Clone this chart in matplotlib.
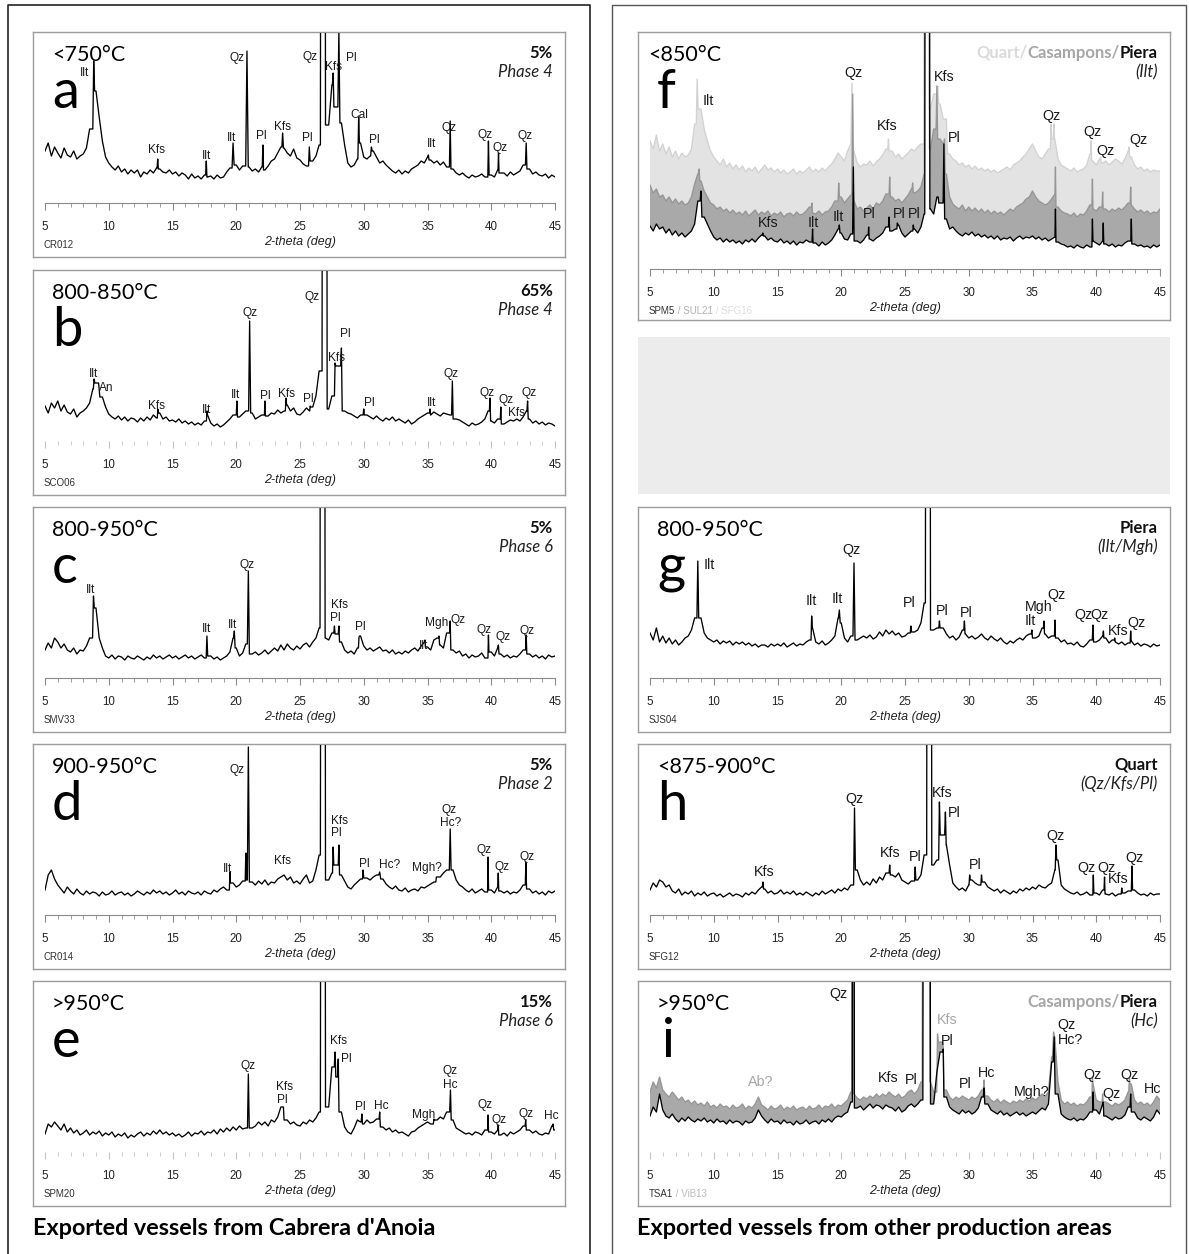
import numpy as np
import matplotlib.pyplot as plt

# XRD patterns, heights in px above the axis line, baseline sampled every 0.25 deg (5..45)
W, H = 1189, 1254
plt.rcParams['font.family'] = 'Liberation Sans'

# ---------- a: CR012 ----------
a_base = [52, 60, 47, 56, 50, 45, 55, 48, 46, 52, 44, 47, 49, 55, 74, 118, 112, 86, 62, 46,
          40, 36, 33, 37, 31, 34, 29, 33, 30, 33, 26, 31, 29, 33, 30, 35, 34, 31, 30, 33,
          29, 31, 27, 30, 28, 24, 29, 25, 27, 24, 28, 26, 27, 24, 28, 25, 26, 31, 35, 50,
          38, 33, 37, 44, 36, 32, 34, 31, 36, 33, 37, 42, 44, 50, 56, 55, 50, 47, 54, 45,
          43, 39, 37, 45, 42, 47, 58, 90, 62, 78, 118, 96, 140, 80, 58, 40, 36, 38, 44, 60,
          46, 44, 47, 52, 46, 40, 42, 38, 35, 32, 30, 33, 29, 32, 30, 34, 36, 38, 42, 40,
          46, 43, 40, 42, 38, 41, 36, 44, 34, 30, 28, 30, 27, 25, 28, 26, 27, 29, 26, 40,
          28, 26, 33, 30, 30, 27, 31, 28, 30, 32, 38, 45, 34, 29, 31, 28, 27, 29, 25, 28, 26]
a_peaks = [(8.82, 142, 0.07), (13.84, 44, 0.05), (17.65, 42, 0.05), (19.75, 60, 0.08),
           (20.84, 152, 0.1), (22.09, 58, 0.05), (23.64, 70, 0.06), (25.73, 56, 0.06),
           (26.8, 2500, 0.2), (27.6, 130, 0.06), (28.05, 172, 0.08), (29.6, 86, 0.06),
           (30.6, 56, 0.06), (35.07, 48, 0.05), (36.78, 82, 0.06), (39.78, 62, 0.05),
           (40.57, 50, 0.04), (42.74, 60, 0.06)]
a_labels = [('Ilt', 8.13, 130), ('Kfs', 13.76, 53), ('Ilt', 17.65, 47), ('Ilt', 19.64, 65),
            ('Qz', 20.1, 145), ('Pl', 21.93, 67), ('Kfs', 23.59, 76), ('Pl', 25.54, 65),
            ('Qz', 25.82, 146), ('Kfs', 27.59, 136), ('Pl', 29.0, 145), ('Cal', 29.63, 88),
            ('Pl', 30.85, 63), ('Ilt', 35.29, 59), ('Qz', 36.7, 75), ('Qz', 39.5, 68),
            ('Qz', 40.73, 55), ('Qz', 42.69, 67)]

# ---------- b: SCO06 ----------
b_base = [35, 28, 38, 33, 40, 30, 36, 29, 27, 32, 24, 28, 30, 33, 38, 52, 58, 48, 44, 34,
          27, 24, 22, 25, 21, 24, 20, 23, 22, 19, 23, 20, 24, 21, 26, 23, 28, 22, 24, 20,
          21, 19, 22, 18, 20, 17, 19, 16, 18, 16, 20, 26, 18, 15, 17, 14, 16, 19, 22, 26,
          30, 24, 27, 30, 36, 28, 22, 24, 26, 30, 25, 28, 27, 31, 28, 30, 36, 30, 33, 27,
          26, 29, 33, 30, 34, 45, 70, 90, 40, 32, 45, 70, 75, 40, 30, 28, 27, 25, 23, 26,
          30, 26, 24, 22, 25, 22, 20, 23, 21, 24, 20, 22, 20, 18, 21, 17, 19, 22, 24, 26,
          28, 26, 29, 27, 25, 28, 27, 26, 30, 22, 21, 19, 17, 15, 18, 16, 17, 19, 22, 30,
          20, 18, 22, 19, 17, 19, 21, 20, 22, 20, 24, 30, 22, 18, 20, 17, 19, 16, 18, 17, 15]
b_peaks = [(8.85, 62, 0.06), (9.25, 52, 0.05), (13.85, 32, 0.04), (17.7, 30, 0.04),
           (20.05, 40, 0.05), (21.05, 120, 0.08), (22.25, 40, 0.04), (23.9, 43, 0.05),
           (25.8, 35, 0.04), (26.93, 2500, 0.2), (27.75, 78, 0.05), (28.25, 93, 0.06),
           (30.0, 32, 0.05), (35.2, 32, 0.04), (36.95, 60, 0.06), (39.9, 43, 0.05),
           (40.75, 34, 0.04), (42.85, 40, 0.05)]
b_labels = [('Ilt', 8.81, 67), ('An', 9.84, 53), ('Kfs', 13.76, 35), ('Ilt', 17.65, 31),
            ('Ilt', 19.97, 46), ('Qz', 21.05, 128), ('Pl', 22.28, 45), ('Kfs', 23.91, 47),
            ('Pl', 25.68, 42), ('Qz', 25.95, 144), ('Kfs', 27.86, 83), ('Pl', 28.54, 107),
            ('Pl', 30.44, 38), ('Ilt', 35.34, 38), ('Qz', 36.84, 67), ('Qz', 39.69, 48),
            ('Qz', 41.14, 41), ('Kfs', 41.95, 28), ('Qz', 42.96, 48)]

# ---------- c: SMV33 ----------
c_base = [28, 35, 30, 40, 36, 30, 34, 28, 26, 30, 24, 28, 27, 32, 40, 75, 70, 40, 30, 22,
          20, 23, 19, 22, 21, 18, 22, 20, 19, 22, 20, 18, 21, 19, 23, 20, 22, 19, 21, 23,
          20, 22, 19, 21, 23, 20, 22, 19, 21, 23, 20, 30, 22, 19, 21, 18, 20, 22, 26, 40,
          30, 22, 25, 34, 30, 24, 26, 23, 25, 28, 24, 27, 30, 27, 33, 28, 34, 30, 28, 32,
          29, 33, 35, 31, 36, 40, 50, 60, 40, 38, 45, 48, 44, 36, 28, 25, 27, 24, 30, 42,
          32, 28, 30, 27, 29, 31, 27, 28, 25, 28, 24, 26, 24, 27, 25, 28, 30, 27, 32, 36,
          31, 28, 38, 40, 33, 30, 45, 32, 28, 25, 27, 22, 24, 20, 23, 21, 22, 25, 20, 23,
          26, 22, 30, 24, 21, 23, 20, 22, 21, 24, 28, 35, 24, 21, 23, 20, 22, 19, 23, 21, 22]
c_peaks = [(8.8, 82, 0.07), (17.7, 42, 0.06), (19.85, 47, 0.06), (20.95, 107, 0.08),
           (26.77, 2500, 0.2), (27.7, 52, 0.05), (28.05, 52, 0.05), (29.63, 41, 0.05),
           (34.8, 38, 0.04), (35.9, 42, 0.05), (36.78, 57, 0.05), (39.78, 43, 0.04),
           (40.56, 33, 0.05), (42.74, 43, 0.05)]
c_labels = [('Ilt', 8.59, 88), ('Ilt', 17.65, 49), ('Ilt', 19.69, 53), ('Qz', 20.86, 113),
            ('Kfs', 28.13, 73), ('Pl', 27.8, 60), ('Pl', 29.76, 51), ('Ilt', 34.66, 32),
            ('Mgh', 35.75, 55), ('Qz', 37.38, 58), ('Qz', 39.42, 48), ('Qz', 40.92, 41),
            ('Qz', 42.82, 47)]

# ---------- d: CR014 ----------
d_base = [25, 40, 45, 36, 30, 26, 22, 28, 24, 21, 26, 22, 20, 24, 21, 23, 22, 19, 23, 20,
          21, 24, 20, 22, 23, 20, 22, 19, 21, 24, 22, 20, 23, 21, 25, 22, 24, 21, 23, 20,
          22, 25, 21, 23, 20, 24, 22, 21, 23, 20, 24, 22, 21, 25, 23, 26, 28, 25, 29, 32,
          28, 30, 34, 40, 35, 33, 30, 34, 31, 35, 30, 33, 32, 36, 38, 40, 35, 38, 32, 34,
          31, 36, 40, 32, 34, 45, 60, 80, 45, 35, 42, 50, 48, 40, 34, 28, 26, 30, 33, 36,
          40, 37, 35, 38, 40, 42, 36, 31, 28, 26, 29, 25, 24, 27, 23, 25, 26, 24, 28, 27,
          29, 31, 33, 36, 38, 42, 45, 60, 45, 35, 30, 28, 25, 23, 26, 22, 24, 26, 23, 30,
          25, 22, 28, 24, 22, 24, 21, 23, 22, 25, 30, 38, 26, 22, 24, 21, 23, 20, 24, 22, 24]
d_peaks = [(19.5, 43, 0.04), (20.75, 62, 0.05), (20.95, 168, 0.08), (26.8, 2500, 0.2),
           (27.6, 68, 0.05), (28.05, 70, 0.05), (29.95, 45, 0.05), (31.25, 43, 0.08),
           (35.7, 38, 0.05), (36.78, 86, 0.07), (39.75, 58, 0.04), (40.55, 42, 0.04),
           (42.72, 53, 0.05)]
d_labels = [('Ilt', 19.34, 46), ('Qz', 20.1, 145), ('Kfs', 23.64, 54), ('Kfs', 28.13, 94),
            ('Pl', 27.86, 82), ('Pl', 30.03, 51), ('Hc?', 32.0, 50), ('Mgh?', 34.93, 47),
            ('Qz', 36.7, 105), ('Hc?', 36.84, 92), ('Qz', 39.42, 65), ('Qz', 40.86, 48),
            ('Qz', 42.82, 58)]

# ---------- e: SPM20 ----------
e_base = [18, 28, 25, 30, 26, 22, 28, 20, 24, 19, 22, 17, 19, 22, 17, 20, 18, 21, 16, 19,
          17, 20, 15, 18, 16, 19, 14, 17, 15, 18, 20, 16, 19, 17, 21, 18, 22, 18, 20, 17,
          19, 16, 18, 15, 17, 20, 16, 19, 18, 21, 17, 20, 19, 22, 18, 23, 20, 24, 21, 25,
          22, 26, 23, 24, 28, 24, 26, 30, 27, 30, 26, 32, 30, 35, 45, 40, 32, 28, 30, 27,
          26, 30, 28, 32, 30, 34, 40, 80, 35, 45, 85, 80, 75, 40, 25, 20, 18, 24, 32, 30,
          28, 32, 29, 30, 33, 28, 25, 22, 24, 20, 22, 19, 20, 18, 16, 20, 21, 24, 26, 28,
          30, 28, 34, 32, 35, 33, 40, 55, 32, 24, 22, 20, 18, 19, 17, 20, 19, 17, 22, 26,
          20, 18, 22, 17, 19, 16, 20, 18, 20, 22, 26, 28, 22, 19, 21, 18, 17, 19, 18, 26, 22]
e_peaks = [(20.95, 78, 0.07), (23.7, 45, 0.05), (26.8, 2500, 0.2), (27.75, 100, 0.06),
           (28.0, 93, 0.06), (29.85, 38, 0.05), (31.25, 40, 0.05), (35.5, 33, 0.04),
           (36.8, 62, 0.06), (39.75, 37, 0.04), (40.55, 27, 0.04), (42.7, 32, 0.05),
           (44.85, 28, 0.05)]
e_labels = [('Qz', 20.92, 86), ('Kfs', 23.78, 65), ('Pl', 23.6, 52), ('Kfs', 28.0, 111),
            ('Pl', 28.67, 93), ('Pl', 29.7, 45), ('Hc', 31.34, 46), ('Mgh', 34.66, 37),
            ('Qz', 36.78, 81), ('Hc', 36.78, 67), ('Qz', 39.5, 47), ('Qz', 40.6, 32),
            ('Qz', 42.7, 38), ('Hc', 44.73, 36)]

# ---------- f: SPM5 (Piera) / SUL21 (Casampons) / SFG16 (Quart) ----------
fq_base = [128, 120, 134, 118, 125, 115, 122, 112, 118, 110, 116, 112, 114, 120, 145, 175,
           160, 140, 128, 118, 112, 108, 104, 110, 102, 106, 100, 104, 99, 103, 97, 101,
           98, 102, 96, 100, 104, 99, 101, 97, 100, 96, 99, 95, 97, 100, 95, 98, 96, 99,
           102, 97, 100, 97, 101, 98, 102, 105, 110, 116, 112, 108, 118, 125, 118, 106,
           102, 105, 104, 108, 103, 107, 110, 114, 120, 125, 118, 112, 115, 110, 113, 116,
           120, 118, 122, 125, 135, 150, 160, 175, 170, 165, 150, 125, 115, 110, 108, 104,
           106, 102, 104, 100, 103, 99, 101, 98, 100, 97, 99, 96, 98, 100, 102, 99, 104,
           106, 108, 112, 115, 120, 125, 118, 112, 110, 115, 120, 140, 130, 110, 104, 102,
           100, 98, 101, 97, 99, 100, 104, 115, 108, 104, 110, 106, 108, 104, 107, 110, 108,
           105, 110, 118, 112, 104, 100, 102, 98, 100, 97, 99, 98, 98]
fq_peaks = [(8.7, 190, 0.07), (20.84, 186, 0.08), (23.7, 130, 0.05), (26.7, 2500, 0.2),
            (27.57, 183, 0.07), (28.3, 125, 0.05), (36.45, 145, 0.05), (36.68, 145, 0.05),
            (39.6, 128, 0.04), (40.35, 112, 0.04), (42.57, 122, 0.05)]
fc_base = [84, 76, 80, 72, 74, 68, 72, 66, 70, 65, 68, 64, 66, 72, 85, 95, 88, 78, 72, 66,
           64, 60, 62, 58, 60, 56, 59, 55, 57, 54, 58, 53, 56, 59, 54, 57, 55, 58, 53, 56,
           54, 57, 52, 55, 56, 53, 57, 54, 55, 58, 62, 56, 55, 58, 54, 57, 58, 62, 68, 80,
           72, 66, 70, 74, 68, 60, 62, 58, 61, 64, 60, 66, 64, 68, 75, 80, 72, 68, 70, 66,
           70, 74, 80, 76, 78, 82, 95, 110, 120, 140, 150, 130, 125, 95, 72, 65, 62, 60, 64,
           58, 62, 58, 61, 57, 60, 56, 59, 55, 58, 55, 57, 54, 57, 60, 58, 62, 64, 66, 70,
           72, 78, 72, 68, 66, 64, 66, 70, 75, 62, 58, 56, 55, 53, 56, 52, 55, 54, 58, 64,
           60, 58, 62, 66, 60, 57, 60, 58, 61, 59, 62, 66, 64, 60, 57, 59, 56, 58, 55, 57,
           56, 60]
fc_peaks = [(8.85, 100, 0.06), (17.7, 66, 0.04), (19.8, 86, 0.05), (20.9, 175, 0.07),
            (23.8, 92, 0.05), (25.6, 86, 0.05), (26.72, 2500, 0.2), (27.5, 183, 0.06),
            (28.1, 130, 0.05), (36.8, 102, 0.04), (39.7, 90, 0.04), (40.5, 77, 0.04),
            (42.7, 82, 0.04)]
fp_base = [43, 38, 45, 40, 42, 36, 40, 34, 38, 33, 36, 32, 35, 38, 45, 68, 70, 52, 45, 38,
           32, 29, 31, 27, 30, 27, 29, 26, 28, 25, 29, 27, 30, 27, 31, 34, 33, 29, 31, 28,
           27, 30, 26, 28, 25, 28, 24, 27, 26, 29, 27, 25, 26, 23, 27, 24, 26, 29, 34, 40,
           36, 30, 29, 35, 32, 28, 26, 29, 34, 30, 28, 31, 33, 36, 42, 44, 38, 40, 44, 36,
           32, 35, 38, 40, 36, 42, 55, 80, 60, 55, 72, 66, 80, 50, 40, 42, 38, 35, 33, 36,
           34, 37, 33, 35, 32, 34, 31, 33, 30, 33, 29, 31, 30, 32, 28, 31, 33, 30, 32, 31,
           33, 30, 32, 29, 31, 28, 30, 32, 27, 25, 24, 22, 23, 21, 24, 22, 21, 24, 22, 28,
           26, 24, 28, 25, 23, 25, 22, 24, 23, 26, 28, 34, 25, 23, 24, 22, 23, 21, 24, 22, 24]
fp_peaks = [(9.0, 78, 0.07), (13.85, 36, 0.04), (17.75, 40, 0.04), (19.85, 44, 0.05),
            (20.95, 102, 0.06), (22.15, 42, 0.04), (23.75, 52, 0.05), (24.4, 46, 0.04),
            (25.65, 44, 0.04), (26.75, 2500, 0.2), (27.6, 72, 0.05), (28.05, 125, 0.06),
            (36.8, 60, 0.04), (39.7, 50, 0.04), (40.55, 46, 0.04), (42.75, 50, 0.04)]
f_labels = [('Ilt', 9.6, 168), ('Qz', 20.95, 196), ('Kfs', 28.05, 192), ('Kfs', 23.6, 143),
            ('Pl', 28.86, 131), ('Qz', 36.5, 153), ('Qz', 39.7, 137), ('Qz', 40.76, 118),
            ('Qz', 43.3, 129), ('Kfs', 14.27, 46), ('Ilt', 17.78, 46), ('Ilt', 19.8, 52),
            ('Pl', 22.16, 55), ('Pl', 24.54, 55), ('Pl', 25.76, 55)]

# ---------- g: SJS04 ----------
g_base = [45, 38, 50, 36, 42, 35, 40, 34, 38, 33, 36, 40, 42, 48, 60, 85, 60, 45, 40, 38,
          36, 38, 34, 37, 35, 37, 33, 36, 34, 36, 33, 35, 32, 34, 31, 33, 33, 31, 34, 32,
          34, 32, 35, 31, 33, 35, 32, 34, 33, 36, 38, 50, 36, 34, 37, 33, 35, 38, 42, 60,
          55, 40, 36, 42, 45, 38, 40, 42, 40, 43, 39, 41, 46, 42, 48, 44, 47, 43, 45, 41,
          42, 45, 52, 46, 48, 55, 75, 95, 60, 48, 50, 55, 50, 44, 40, 42, 38, 41, 48, 44,
          40, 42, 39, 41, 44, 40, 38, 42, 39, 37, 40, 36, 34, 37, 35, 38, 40, 38, 42, 44,
          46, 40, 42, 50, 44, 40, 42, 38, 40, 36, 38, 34, 35, 33, 36, 32, 31, 34, 38, 45,
          36, 38, 42, 40, 35, 38, 36, 34, 36, 33, 35, 37, 33, 35, 32, 34, 33, 31, 34, 32, 33]
g_peaks = [(8.75, 117, 0.07), (17.68, 62, 0.05), (19.85, 68, 0.07), (21.0, 115, 0.08),
           (25.46, 52, 0.05), (26.8, 2500, 0.2), (27.7, 57, 0.05), (29.66, 57, 0.05),
           (34.95, 48, 0.05), (35.9, 57, 0.04), (36.76, 58, 0.04), (39.74, 53, 0.05),
           (40.56, 47, 0.04), (41.45, 40, 0.04), (42.7, 47, 0.04)]
g_labels = [('Ilt', 9.66, 113), ('Ilt', 17.63, 77), ('Ilt', 19.7, 79), ('Qz', 20.77, 128),
            ('Pl', 25.3, 75), ('Pl', 27.9, 67), ('Pl', 29.8, 65), ('Ilt', 34.8, 57),
            ('Mgh', 35.5, 71), ('Qz', 36.9, 83), ('Qz', 39.0, 63), ('Qz', 40.23, 63),
            ('Kfs', 41.7, 47), ('Qz', 43.16, 55)]

# ---------- h: SFG12 ----------
h_base = [25, 32, 28, 35, 33, 28, 30, 24, 22, 26, 20, 23, 21, 24, 19, 22, 20, 23, 19, 21,
          22, 19, 21, 18, 20, 22, 19, 21, 20, 18, 22, 20, 23, 21, 25, 28, 26, 22, 24, 21,
          22, 25, 21, 23, 21, 24, 20, 22, 20, 23, 21, 19, 22, 20, 24, 21, 23, 25, 22, 26,
          24, 27, 25, 30, 75, 45, 35, 30, 33, 30, 36, 32, 38, 35, 42, 48, 40, 38, 42, 35,
          33, 31, 34, 40, 35, 40, 60, 90, 60, 50, 55, 95, 80, 70, 50, 32, 28, 25, 27, 24,
          30, 35, 32, 30, 36, 33, 28, 26, 24, 26, 22, 25, 23, 21, 24, 22, 26, 24, 27, 25,
          28, 26, 30, 28, 27, 30, 32, 45, 55, 30, 26, 24, 22, 21, 23, 20, 21, 23, 20, 27,
          22, 20, 25, 21, 20, 22, 19, 21, 20, 22, 24, 35, 25, 22, 20, 21, 19, 22, 20, 21, 21]
h_peaks = [(13.86, 33, 0.05), (21.04, 107, 0.07), (23.8, 50, 0.05), (25.8, 48, 0.05),
           (26.9, 2500, 0.2), (27.7, 113, 0.06), (28.17, 103, 0.06), (30.07, 40, 0.05),
           (31.0, 40, 0.05), (36.84, 70, 0.06), (39.77, 40, 0.04), (40.65, 38, 0.04),
           (42.0, 27, 0.04), (42.8, 49, 0.05)]
h_labels = [('Kfs', 13.94, 43), ('Qz', 21.07, 116), ('Kfs', 23.83, 62), ('Pl', 25.79, 58),
            ('Kfs', 27.9, 122), ('Pl', 28.85, 102), ('Pl', 30.53, 50), ('Qz', 36.79, 79),
            ('Qz', 39.2, 47), ('Qz', 40.83, 47), ('Kfs', 41.72, 36), ('Qz', 42.99, 57)]

# ---------- i: TSA1 (Piera) / ViB13 (Casampons) ----------
ic_base = [60, 70, 64, 75, 62, 58, 55, 60, 56, 52, 55, 50, 52, 48, 51, 47, 49, 46, 50, 45,
           47, 44, 48, 45, 46, 43, 47, 44, 45, 48, 43, 46, 44, 48, 55, 47, 45, 42, 46, 43,
           44, 47, 42, 45, 43, 46, 42, 44, 45, 42, 46, 43, 44, 47, 43, 46, 45, 48, 44, 47,
           46, 49, 52, 60, 58, 54, 52, 55, 53, 56, 54, 58, 55, 58, 56, 60, 57, 55, 58, 54,
           56, 60, 62, 58, 62, 70, 100, 140, 70, 60, 95, 110, 95, 62, 55, 52, 55, 53, 56, 54,
           52, 55, 53, 56, 62, 68, 56, 52, 50, 53, 49, 52, 50, 48, 51, 49, 52, 50, 53, 51,
           54, 52, 55, 58, 56, 60, 95, 115, 70, 52, 48, 50, 47, 49, 46, 48, 47, 50, 55, 68,
           52, 50, 56, 50, 48, 46, 49, 47, 49, 52, 60, 68, 52, 48, 50, 47, 49, 46, 50, 56, 52]
ic_peaks = [(20.9, 2000, 0.08), (26.65, 2500, 0.3), (27.55, 118, 0.06), (28.0, 105, 0.05),
            (31.2, 72, 0.06), (36.65, 120, 0.08), (39.7, 75, 0.04), (40.5, 58, 0.04),
            (42.6, 74, 0.05)]
ip_base = [36, 45, 40, 58, 42, 36, 34, 38, 33, 30, 34, 31, 35, 32, 30, 33, 31, 34, 30, 32,
           29, 33, 30, 31, 28, 32, 29, 31, 30, 27, 31, 29, 30, 34, 42, 36, 32, 29, 33, 30,
           31, 28, 32, 29, 30, 27, 31, 28, 29, 32, 28, 30, 31, 28, 32, 30, 33, 30, 34, 36,
           35, 38, 40, 50, 48, 44, 46, 42, 45, 48, 44, 47, 46, 43, 47, 45, 44, 41, 45, 40,
           42, 46, 48, 45, 48, 52, 90, 140, 55, 48, 80, 100, 92, 55, 45, 42, 40, 38, 42, 39,
           41, 38, 40, 44, 55, 62, 48, 42, 40, 38, 41, 37, 39, 36, 38, 40, 37, 39, 36, 38,
           40, 38, 41, 44, 42, 48, 90, 110, 58, 38, 35, 33, 32, 34, 31, 33, 32, 35, 40, 58,
           42, 38, 48, 36, 34, 32, 35, 33, 34, 37, 45, 56, 40, 34, 32, 35, 33, 31, 35, 42, 38]
ip_peaks = [(20.95, 2000, 0.08), (26.7, 2500, 0.3), (28.0, 103, 0.05), (31.2, 64, 0.06),
            (36.7, 115, 0.08), (39.75, 60, 0.04), (40.55, 50, 0.04), (42.7, 58, 0.05)]
i_labels = [('Ab?', 13.67, 70, '#a6a6a6'), ('Qz', 19.77, 158), ('Kfs', 23.7, 74),
            ('Pl', 25.46, 72), ('Kfs', 28.3, 132, '#a6a6a6'), ('Pl', 28.3, 111),
            ('Pl', 29.74, 68), ('Hc', 31.4, 79), ('Mgh?', 34.95, 60), ('Qz', 37.66, 127),
            ('Hc?', 37.98, 112), ('Qz', 39.69, 77), ('Qz', 41.18, 58), ('Qz', 42.59, 77),
            ('Hc', 44.43, 63)]

LIGHT, MID = '#e3e3e3', '#a9a9a9'

fig = plt.figure(figsize=(W / 100, H / 100), dpi=100)


def add_px_axes(x0, y0, x1, y1):
    return fig.add_axes([x0 / W, 1 - y1 / H, (x1 - x0) / W, (y1 - y0) / H])


def ptext(x, y, s, **kw):
    return fig.text(x / W, 1 - y / H, s, **kw)


def ctext(x, y, parts, ha='left', **kw):
    r = fig.canvas.get_renderer()
    seq = parts if ha == 'left' else parts[::-1]
    for s, col in seq:
        t = ptext(x, y, s, color=col, ha=ha, va='baseline', **kw)
        bb = t.get_window_extent(r)
        x = bb.x1 if ha == 'left' else bb.x0


def build(base, peaks):
    xs = np.linspace(5, 45, len(base))
    pts = list(zip(xs, base))
    for c, h, w in sorted(peaks):
        left = [p for p in pts if p[0] < c - w]
        right = [p for p in pts if p[0] > c + w]
        pts = left + [(c - w, left[-1][1]), (c, h), (c + w, right[0][1])] + right
    x, y = zip(*pts)
    return np.array(x), np.array(y)


def panel(fx, top, height, axis_h, traces, labels, temp, letter, head, sub, sample,
          axis_line=True, lab_size=8.6, temp_dx=19, letter_dx=19):
    frame = add_px_axes(fx, top, fx + 532, top + height)
    frame.set_xticks([])
    frame.set_yticks([])
    for s in frame.spines.values():
        s.set_color('#9c9c9c')
        s.set_linewidth(1)

    ax = add_px_axes(fx + 12, top + 1, fx + 522, top + axis_h)
    ax.set_facecolor('none')
    ax.set_xlim(5, 45)
    ax.set_ylim(0, axis_h - 1)
    for k in ('top', 'left', 'right'):
        ax.spines[k].set_visible(False)
    ax.spines['bottom'].set_color('#8a8a8a')
    ax.spines['bottom'].set_visible(axis_line)
    ax.set_yticks([])
    ax.set_xticks(range(5, 46, 5))
    ax.set_xticks(range(5, 46), minor=True)
    tick_col = '#8a8a8a' if axis_line else '#c4c4c4'
    ax.tick_params(axis='x', which='major', length=5, width=0.8, color=tick_col, pad=8,
                   labelsize=8.3, labelcolor='#222222')
    ax.tick_params(axis='x', which='minor', length=3, width=0.6, color=tick_col)

    for base, peaks, fill, line, lw in traces:
        x, y = build(base, peaks)
        if fill is not None:
            ax.fill_between(x, 0, y, color=fill, lw=0)
        ax.plot(x, y, color=line, lw=lw)

    for lab in labels:
        col = lab[3] if len(lab) > 3 else '#1a1a1a'
        ax.text(lab[1], lab[2], lab[0], fontsize=lab_size, color=col,
                ha='center', va='center', clip_on=False)

    ptext(fx + temp_dx, top + 29, temp, fontsize=15.5, family='Lato', va='baseline')
    ptext(fx + letter_dx, top + 76, letter, fontsize=39, family='Lato', va='baseline')
    ctext(fx + 520, top + 26, head, ha='right', fontsize=12, family='Lato', weight='bold')
    ptext(fx + 520, top + 45, sub, fontsize=12, family='Lato', style='italic',
          ha='right', va='baseline', color='#222222')
    ptext(fx + 12 + 255, top + axis_h + 39, '2-theta (deg)', fontsize=9, style='italic',
          ha='center', va='center', color='#222222')
    ctext(fx + 11, top + axis_h + 45, sample, fontsize=7)


LX, RX = 33, 638
tops = [32, 270, 507, 744, 981]
LW = 0.95

# outer boxes
box = fig.add_axes([0, 0, 1, 1])
box.set_xlim(0, W)
box.set_ylim(H, 0)
box.axis('off')
box.plot([8, 8, 590, 590], [1260, 5, 5, 1260], color='#222222', lw=1.2)
box.plot([612, 612, 1186, 1186], [1260, 5, 5, 1260], color='#555555', lw=1)
box.add_patch(plt.Rectangle((638, 337), 532, 157, color='#ececec', lw=0))

panel(LX, tops[0], 225, 171, [(a_base, a_peaks, None, 'black', LW)], a_labels,
      '<750°C', 'a', [('5%', '#111111')], 'Phase 4', [('CR012', '#333333')])
panel(LX, tops[1], 225, 171, [(b_base, b_peaks, None, 'black', LW)], b_labels,
      '800-850°C', 'b', [('65%', '#111111')], 'Phase 4', [('SCO06', '#333333')],
      axis_line=False)
panel(LX, tops[2], 225, 171, [(c_base, c_peaks, None, 'black', LW)], c_labels,
      '800-950°C', 'c', [('5%', '#111111')], 'Phase 6', [('SMV33', '#333333')])
panel(LX, tops[3], 225, 171, [(d_base, d_peaks, None, 'black', LW)], d_labels,
      '900-950°C', 'd', [('5%', '#111111')], 'Phase 2', [('CR014', '#333333')])
panel(LX, tops[4], 225, 171, [(e_base, e_peaks, None, 'black', LW)], e_labels,
      '>950°C', 'e', [('15%', '#111111')], 'Phase 6', [('SPM20', '#333333')],
      axis_line=False)

panel(RX, tops[0], 288, 237,
      [(fq_base, fq_peaks, LIGHT, '#d2d2d2', LW), (fc_base, fc_peaks, MID, '#959595', LW),
       (fp_base, fp_peaks, 'white', 'black', LW)], f_labels,
      '<850°C', 'f', [('Quart/', '#dadada'), ('Casampons/', '#a6a6a6'), ('Piera', '#111111')],
      '(Ilt)', [('SPM5', '#333333'), (' / SUL21', '#b0b0b0'), (' / SFG16', '#dddddd')],
      lab_size=10.3, temp_dx=10, letter_dx=19)
panel(RX, tops[2], 225, 171, [(g_base, g_peaks, None, 'black', LW)], g_labels,
      '800-950°C', 'g', [('Piera', '#111111')], '(Ilt/Mgh)', [('SJS04', '#333333')],
      lab_size=10.3)
panel(RX, tops[3], 225, 171, [(h_base, h_peaks, None, 'black', LW)], h_labels,
      '<875-900°C', 'h', [('Quart', '#111111')], '(Qz/Kfs/Pl)', [('SFG12', '#333333')],
      lab_size=10.3)
panel(RX, tops[4], 225, 171,
      [(ic_base, ic_peaks, MID, '#959595', LW), (ip_base, ip_peaks, 'white', 'black', LW)],
      i_labels, '>950°C', 'i', [('Casampons/', '#a6a6a6'), ('Piera', '#111111')], '(Hc)',
      [('TSA1', '#333333'), (' / ViB13', '#bbbbbb')], axis_line=False, lab_size=10.3,
      letter_dx=24)

ptext(33, 1235, "Exported vessels from Cabrera d'Anoia", fontsize=16.8, family='Lato',
      weight='bold', va='baseline')
ptext(637, 1235, 'Exported vessels from other production areas', fontsize=16.9,
      family='Lato', weight='bold', va='baseline')

fig.savefig('out.png', dpi=100)
